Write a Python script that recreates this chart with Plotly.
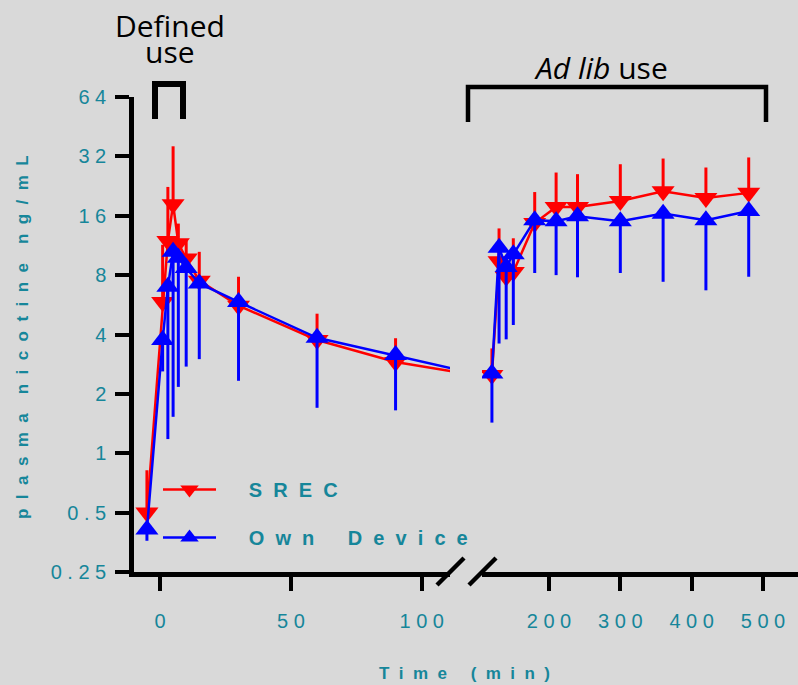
import plotly.graph_objects as go

# ---------------- data ----------------
time_min = [-5, 1, 3, 5, 7, 10, 15, 30, 60, 90,
            120, 130, 140, 150, 180, 210, 240, 300, 360, 420, 480]
srec_mean = [0.5, 5.85, 11.9, 18.3, 11.6, 9.7, 7.5, 5.6, 3.75, 2.9,
             2.49, 9.4, 7.85, 8.3, 14.7, 17.7, 17.7, 19.0, 21.3, 19.7, 20.9]
srec_upper = [0.82, 11.4, 22.4, 36.0, 14.6, 12.0, 10.5, 7.85, 5.1, 3.83,
              3.4, 13.8, 10.0, 12.3, 21.1, 26.5, 26.0, 29.2, 31.2, 28.1, 31.6]
own_mean = [0.41, 3.75, 6.98, 10.5, 9.8, 8.7, 7.26, 5.85, 3.85, 3.15,
            2.54, 11.0, 8.8, 10.2, 15.2, 15.0, 15.9, 15.0, 16.4, 15.2, 16.9]
own_lower = [0.36, 2.6, 1.18, 1.53, 2.17, 2.75, 3.0, 2.33, 1.7, 1.65,
             1.43, 3.6, 3.78, 4.47, 8.2, 8.0, 7.8, 8.2, 7.4, 6.7, 7.85]

y_tickvals = [0.25, 0.5, 1, 2, 4, 8, 16, 32, 64]
y_ticklabels = ["0.25", "0.5", "1", "2", "4", "8", "16", "32", "64"]
x_left_tickvals = [0, 50, 100]
x_left_ticklabels = ["0", "50", "100"]
x_right_tickvals = [200, 300, 400, 500]
x_right_ticklabels = ["200", "300", "400", "500"]

series_names = ["SREC", "Own Device"]
panel_labels = ["Defined", "use", "Ad lib", "use"]
axis_titles = ["Time (min)", "plasma nicotine ng/mL"]
ADLIB_START = 120

# ---------------- styling ----------------
W, H = 798, 685
ML, MR, MT, MB = 134, 0, 97, 113
PW, PH = W - ML - MR, H - MT - MB
BG = "#d9d9d9"
TEAL = "#16869a"
RED = "#ff0000"
BLUE = "#0000ff"
NB = "\u00a0"


def spread(s, n=2, word=4):
    out = []
    for word_str in s.split(" "):
        out.append((NB * n).join(list(word_str)))
    return (NB * word).join(out)


def px_x(p):
    return (p - ML) / PW


def px_y(p):
    return (H - MB - p) / PH


tick_font = dict(family="Liberation Sans Narrow, Arial Narrow, Liberation Sans, sans-serif",
                 size=20, color=TEAL)
bold_font = dict(family="Liberation Sans, Arial, sans-serif", size=17, color=TEAL, weight="bold")

left_idx = [i for i, t in enumerate(time_min) if t <= ADLIB_START]
right_idx = [i for i, t in enumerate(time_min) if t >= ADLIB_START]

fig = go.Figure()


def add_series(mean, bound, upper, color, symbol, name, group):
    for idx, xa, show in ((left_idx, "x", True), (right_idx, "x2", False)):
        xs = [time_min[i] for i in idx]
        ys = [mean[i] for i in idx]
        if upper:
            err = dict(type="data", symmetric=False,
                       array=[bound[i] - mean[i] for i in idx],
                       arrayminus=[0] * len(idx),
                       color=color, thickness=3, width=0)
        else:
            err = dict(type="data", symmetric=False,
                       array=[0] * len(idx),
                       arrayminus=[mean[i] - bound[i] for i in idx],
                       color=color, thickness=3, width=0)
        fig.add_trace(go.Scatter(
            x=xs, y=ys, xaxis=xa, yaxis="y", mode="lines+markers",
            name=NB * 5 + spread(name, 2, 6), legendgroup=group, showlegend=show,
            line=dict(color=color, width=2.5),
            marker=dict(symbol=symbol, size=20, color=color),
            error_y=err,
        ))


add_series(srec_mean, srec_upper, True, RED, "triangle-down", series_names[0], "srec")
add_series(own_mean, own_lower, False, BLUE, "triangle-up", series_names[1], "own")

axis_common = dict(showline=True, linecolor="black", linewidth=4.5,
                   ticks="outside", ticklen=14, tickwidth=4, tickcolor="black",
                   showgrid=False, zeroline=False, tickfont=tick_font)

fig.update_layout(
    width=W, height=H,
    margin=dict(l=ML, r=MR, t=MT, b=MB),
    paper_bgcolor=BG, plot_bgcolor=BG,
    xaxis=dict(domain=[0, px_x(450)], range=[-9.94, 110.8], anchor="y",
               tickvals=x_left_tickvals,
               ticktext=[spread(s, 1) for s in x_left_ticklabels],
               ticklabelstandoff=13, **axis_common),
    xaxis2=dict(domain=[px_x(482), 1], range=[106.1, 549.1], anchor="y",
                tickvals=x_right_tickvals,
                ticktext=[spread(s, 1) for s in x_right_ticklabels],
                ticklabelstandoff=13, **axis_common),
    yaxis=dict(type="log", range=[-0.60206, 1.80618], anchor="x",
               tickvals=y_tickvals,
               ticktext=[spread(s, 1) for s in y_ticklabels],
               ticklabelstandoff=5, **axis_common),
    legend=dict(x=px_x(158), y=px_y(470), xanchor="left", yanchor="top",
                bgcolor="rgba(0,0,0,0)", itemwidth=53,
                traceorder="grouped", tracegroupgap=19,
                font=dict(family="Liberation Sans, Arial, sans-serif", size=20,
                          color=TEAL, weight="bold")),
    showlegend=True,
)

# axis titles
fig.add_annotation(text=spread(axis_titles[0], 2, 5), xref="paper", yref="paper",
                   x=px_x(464), y=px_y(673), xanchor="center", yanchor="middle",
                   showarrow=False, font=bold_font)
fig.add_annotation(text=spread(axis_titles[1], 2, 4), xref="paper", yref="paper",
                   x=px_x(22), y=px_y(337), xanchor="center", yanchor="middle",
                   showarrow=False, textangle=-90, font=bold_font)

# panel labels
label_font = dict(family="Open Sans, Noto Sans, sans-serif", size=30, color="black")
fig.add_annotation(text=panel_labels[0], xref="paper", yref="paper", x=px_x(170), y=px_y(25),
                   xanchor="center", yanchor="middle", height=25, valign="middle",
                   showarrow=False, font=label_font)
fig.add_annotation(text=panel_labels[1], xref="paper", yref="paper", x=px_x(170), y=px_y(52),
                   xanchor="center", yanchor="middle", height=25, valign="middle",
                   showarrow=False, font=label_font)
fig.add_annotation(text="<i>" + panel_labels[2] + "</i> " + panel_labels[3],
                   xref="paper", yref="paper", x=px_x(601), y=px_y(68),
                   xanchor="center", yanchor="middle", showarrow=False, font=label_font)


# brackets
def bracket(x0, x1, ytop, ybot, w):
    fig.add_shape(type="path", xref="paper", yref="paper",
                  path=f"M {px_x(x0)},{px_y(ybot)} L {px_x(x0)},{px_y(ytop)} "
                       f"L {px_x(x1)},{px_y(ytop)} L {px_x(x1)},{px_y(ybot)}",
                  line=dict(color="black", width=w))


bracket(155, 183, 84, 119, 6)
bracket(468, 766, 87, 122, 4.5)

# axis break marks
for x0 in (437, 469):
    fig.add_shape(type="line", xref="paper", yref="paper",
                  x0=px_x(x0), y0=px_y(585), x1=px_x(x0 + 27), y1=px_y(558),
                  line=dict(color="black", width=4.5))

fig.write_html("out.html", config={"displayModeBar": False},
               post_script="document.body.style.margin='0';")
